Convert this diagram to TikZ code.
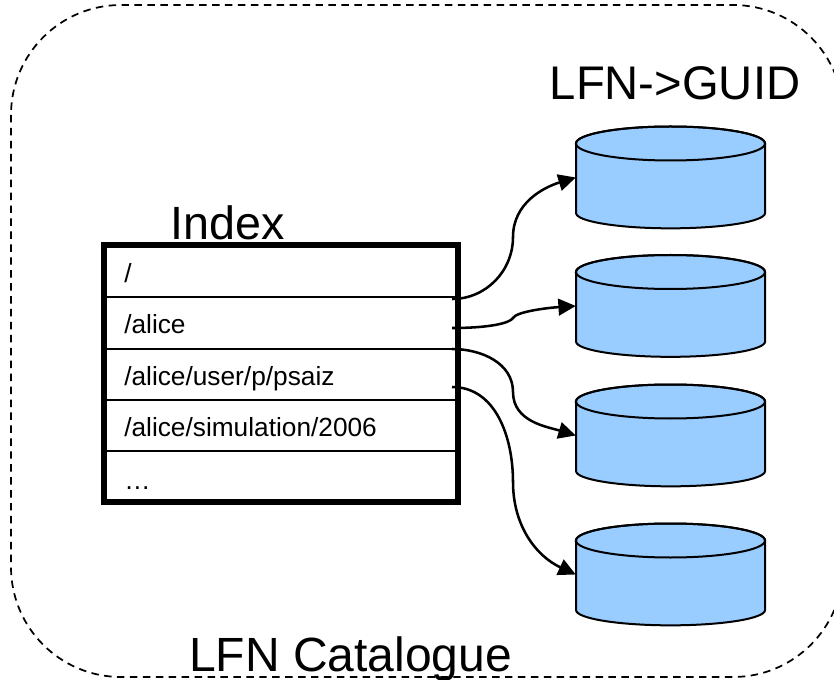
\documentclass[tikz,border=0pt]{standalone}
\usepackage{fontspec}
\setmainfont{Liberation Sans}
\usetikzlibrary{arrows.meta}

\definecolor{dbblue}{RGB}{153,204,255}

\tikzset{
  title/.style={anchor=base west, inner sep=0pt, font=\fontsize{35.4}{36}\selectfont},
  entry/.style={anchor=base west, inner sep=0pt, font=\fontsize{19.7}{20}\selectfont},
  link/.style={line width=1.9pt, -{Triangle[length=13pt,width=12.5pt]}},
  drum/.pic={
    \draw[fill=dbblue, line width=1.5pt] (-94.5,-34) -- (-94.5,35.5)
      arc [start angle=180, end angle=360, x radius=70.9pt, y radius=11.5pt]
      -- (94.5,-34) arc [start angle=0, end angle=180, x radius=70.9pt, y radius=12.75pt] -- cycle;
    \draw[line width=1.5pt] (0,-34) ellipse [x radius=70.9pt, y radius=12.75pt];
    \node[inner sep=0pt, minimum width=141.75pt, minimum height=75.75pt] (-box) at (0,0) {};
  }
}

\begin{document}
\begin{tikzpicture}[x=0.75pt, y=-0.75pt]

  \useasboundingbox (0,0) rectangle (834,680);

  \draw[line width=1.3pt, dash pattern=on 5.6pt off 4.1pt, rounded corners=82.5pt] (11,5) rectangle (843,677);

  \node[title] (lfn) at (549.5,100) {LFN->GUID};
  \node[title, font=\fontsize{35}{36}\selectfont] (idx) at (170.5,240) {Index};
  \node[title, font=\fontsize{36}{36}\selectfont] (cat) at (189,671) {LFN Catalogue};

  \draw[line width=4.5pt] (104,245) rectangle (458,502);
  \draw[line width=1.7pt] (104,297) -- (458,297);
  \draw[line width=1.7pt] (104,349) -- (458,349);
  \draw[line width=1.7pt] (104,400) -- (458,400);
  \draw[line width=1.7pt] (104,451) -- (458,451);

  \node[entry] (row1) at (124,283) {/};
  \node[entry] (row2) at (124,334) {/alice};
  \node[entry] (row3) at (124,385) {/alice/user/p/psaiz};
  \node[entry] (row4) at (124,436) {/alice/simulation/2006};
  \node[entry] (row5) at (124,489) {…};

  \pic (db1) at (670.5,177.5) {drum};
  \pic (db2) at (670.5,306) {drum};
  \pic (db3) at (670.5,435.5) {drum};
  \pic (db4) at (670.5,574.5) {drum};

  \coordinate (out1) at (452,299);
  \coordinate (out2) at (452,328);
  \coordinate (out3) at (452,349);
  \coordinate (out4) at (452,387);

  \draw[link] (out1) to [out=0, in=270] (513,237) to [out=90, in=197] (db1-box.west);
  \draw[link] (out2) .. controls (490,328) and (510,323) .. (513,318)
    .. controls (516,312) and (545,308) .. (db2-box.west);
  \draw[link] (out3) to [out=0, in=90] (513,392) to [out=270, in=163] (db3-box.west);
  \draw[link] (out4) to [out=0, in=90] (513,482) to [out=270, in=155] (db4-box.west);

\end{tikzpicture}
\end{document}
